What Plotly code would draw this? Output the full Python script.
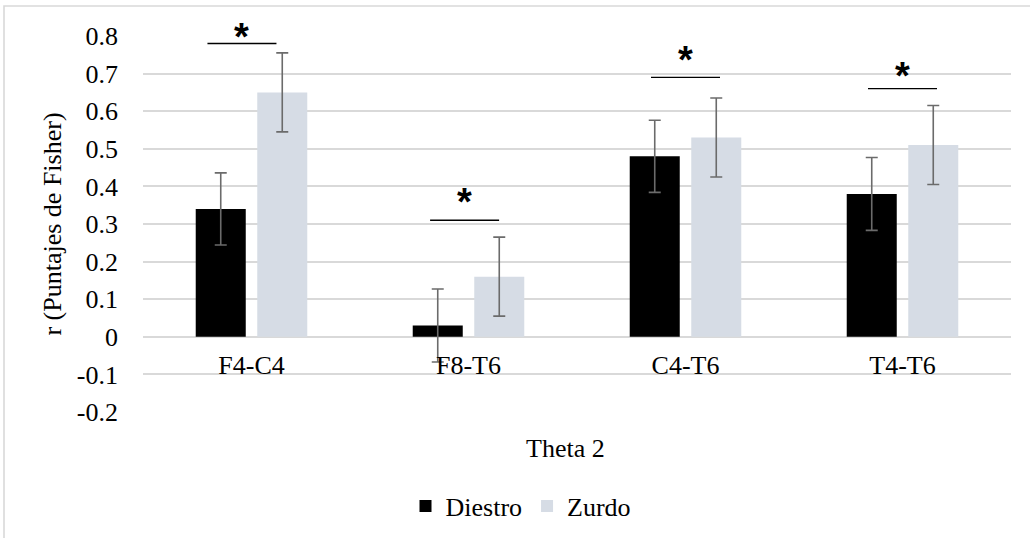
import plotly.graph_objects as go

# ---------------- data ----------------
categories = ["F4-C4", "F8-T6", "C4-T6", "T4-T6"]
series_names = ["Diestro", "Zurdo"]
diestro = [0.34, 0.03, 0.48, 0.38]
zurdo = [0.65, 0.16, 0.53, 0.51]
diestro_err = [0.096, 0.097, 0.096, 0.097]
zurdo_err = [0.105, 0.105, 0.105, 0.105]

# significance markers (line height, star height, horizontal offset in category units)
sig_line_y = [0.78, 0.31, 0.69, 0.66]
sig_star_y = [0.809, 0.37, 0.746, 0.705]
sig_offset = [-0.044, -0.018, 0.0, 0.0]
sig_half_width = 0.159

y_tick_values = [-0.2, -0.1, 0, 0.1, 0.2, 0.3, 0.4, 0.5, 0.6, 0.7, 0.8]
y_tick_labels = ["-0.2", "-0.1", "0", "0.1", "0.2", "0.3", "0.4", "0.5", "0.6", "0.7", "0.8"]
y_range = [-0.2, 0.8]

x_title = "Theta 2"
y_title = "r (Puntajes de Fisher)"

# ---------------- style ----------------
W, H = 1030, 538
ML, MR, MT, MB = 143, 19, 36, 126
PW, PH = W - ML - MR, H - MT - MB
FONT = "Liberation Serif"
GRID = "#d9d9d9"
ERR = "#6b6b6b"


def px_x(px):
    return (px - ML) / PW


def px_y(py):
    return (H - MB - py) / PH


def data_to_paper_y(v):
    return (v - y_range[0]) / (y_range[1] - y_range[0])


fig = go.Figure()
fig.add_trace(go.Bar(
    name=series_names[0], x=categories, y=diestro,
    marker=dict(color="#000000", line=dict(width=0)),
    error_y=dict(type="data", array=diestro_err, visible=True,
                 color=ERR, thickness=1.6, width=6),
))
fig.add_trace(go.Bar(
    name=series_names[1], x=categories, y=zurdo,
    marker=dict(color="#d6dce5", line=dict(width=0)),
    error_y=dict(type="data", array=zurdo_err, visible=True,
                 color=ERR, thickness=1.6, width=6),
))

shapes = []
annotations = []
for i in range(len(categories)):
    cx = i + sig_offset[i]
    shapes.append(dict(type="line", xref="x", yref="y",
                       x0=cx - sig_half_width, x1=cx + sig_half_width,
                       y0=sig_line_y[i], y1=sig_line_y[i],
                       line=dict(color="#000000", width=1.3)))
    annotations.append(dict(x=cx, y=data_to_paper_y(sig_star_y[i]), xref="x", yref="paper",
                            text="<b>*</b>", showarrow=False,
                            yanchor="middle", xanchor="center", yshift=-4,
                            font=dict(family="Liberation Sans",
                                      size=38, color="#000000")))

# outer chart border
shapes.append(dict(type="rect", xref="paper", yref="paper",
                   x0=px_x(4), x1=px_x(W + 20), y0=px_y(H + 20), y1=px_y(6),
                   line=dict(color=GRID, width=1.6), layer="below"))

annotations.append(dict(x=px_x(565), y=px_y(448), xref="paper", yref="paper",
                        text=x_title, showarrow=False, xanchor="center", yanchor="middle",
                        font=dict(family=FONT, size=26, color="#000000")))

zero_pos = (0 - y_range[0]) / (y_range[1] - y_range[0])

fig.update_layout(
    width=W, height=H,
    margin=dict(l=ML, r=MR, t=MT, b=MB, autoexpand=False),
    paper_bgcolor="white", plot_bgcolor="white",
    font=dict(family=FONT, size=26, color="#000000"),
    barmode="group", bargap=0.433, bargroupgap=0.187,
    showlegend=True,
    legend=dict(orientation="h", x=px_x(521), y=px_y(506),
                xanchor="center", yanchor="middle",
                font=dict(family=FONT, size=26, color="#000000"),
                itemwidth=30, traceorder="normal"),
    xaxis=dict(type="category", anchor="free", position=zero_pos,
               showline=False, ticks="", showgrid=False, zeroline=False,
               ticklabelstandoff=10, automargin=False,
               tickfont=dict(family=FONT, size=26, color="#000000")),
    yaxis=dict(range=y_range, tickvals=y_tick_values, ticktext=y_tick_labels,
               showgrid=True, gridcolor=GRID, gridwidth=1.6,
               zeroline=True, zerolinecolor=GRID, zerolinewidth=1.6,
               showline=False, ticks="", ticklabelstandoff=24, automargin=False,
               tickfont=dict(family=FONT, size=26, color="#000000"),
               title=dict(text=y_title, standoff=7,
                          font=dict(family=FONT, size=26, color="#000000"))),
    shapes=shapes,
    annotations=annotations,
)

fig.write_html("out.html", config={"displayModeBar": False},
               post_script="document.body.style.margin='0px';")
